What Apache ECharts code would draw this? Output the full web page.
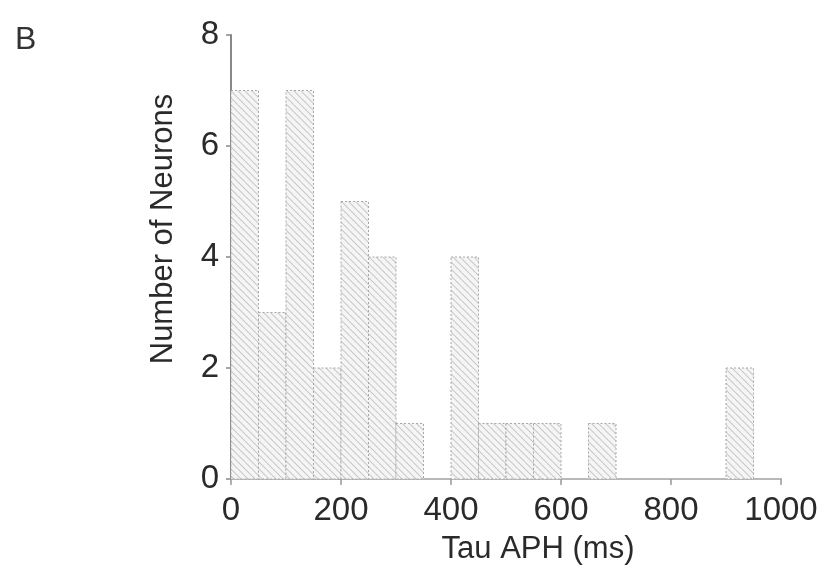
<!DOCTYPE html>
<html>
<head>
<meta charset="utf-8">
<script src="https://cdn.jsdelivr.net/npm/echarts@6/dist/echarts.min.js"></script>
<style>
html,body{margin:0;padding:0;background:#fff;}
#chart{width:833px;height:573px;}
</style>
</head>
<body>
<div id="chart"></div>
<script>
// ---- data ----
const binStarts = [0, 50, 100, 150, 200, 250, 300, 350, 400, 450, 500, 550, 600, 650, 700, 750, 800, 850, 900, 950];
const binEnds   = [50, 100, 150, 200, 250, 300, 350, 400, 450, 500, 550, 600, 650, 700, 750, 800, 850, 900, 950, 1000];
const counts    = [7, 3, 7, 2, 5, 4, 1, 0, 4, 1, 1, 1, 0, 1, 0, 0, 0, 0, 2, 0];
const xTicks = [0, 200, 400, 600, 800, 1000];
const yTicks = [0, 2, 4, 6, 8];
const xLabel = 'Tau APH (ms)';
const yLabel = 'Number of Neurons';
const panelLabel = 'B';

// ---- hatch pattern ----
function makeHatch() {
  const s = 7;
  const c = document.createElement('canvas');
  c.width = s; c.height = s;
  const g = c.getContext('2d');
  g.fillStyle = '#f5f5f5';
  g.fillRect(0, 0, s, s);
  g.strokeStyle = '#c8c8c8';
  g.lineWidth = 1.1;
  for (let k = -1; k <= 1; k++) {
    g.beginPath();
    g.moveTo(k * s, 0);
    g.lineTo(k * s + s, s);
    g.stroke();
  }
  return c;
}
const hatch = { image: makeHatch(), repeat: 'repeat' };

const histData = [];
for (let i = 0; i < counts.length; i++) {
  if (counts[i] > 0) histData.push([binStarts[i], binEnds[i], counts[i]]);
}

const font = "'Liberation Sans', Arial, sans-serif";
const txt = '#2a2a2a';
const chart = echarts.init(document.getElementById('chart'), null, { renderer: 'canvas' });
chart.setOption({
  animation: false,
  backgroundColor: '#ffffff',
  grid: { left: 231, right: 52, top: 35, bottom: 94, containLabel: false },
  graphic: [{
    type: 'text', left: 15, top: 24,
    style: { text: panelLabel, fontSize: 32, fill: '#333', fontFamily: font }
  }],
  xAxis: {
    type: 'value', min: xTicks[0], max: xTicks[xTicks.length - 1], interval: 200,
    name: xLabel, nameLocation: 'middle', nameGap: 55,
    nameTextStyle: { fontSize: 31, color: txt, fontFamily: font, padding: [0, 0, 0, 64] },
    axisLine: { show: true, lineStyle: { color: '#b8b8b8', width: 2 } },
    axisTick: { show: true, length: 6, lineStyle: { color: '#999', width: 1.5 } },
    axisLabel: { fontSize: 33, color: txt, fontFamily: font, margin: 15,
      formatter: function (v) { return String(v); } },
    splitLine: { show: false }
  },
  yAxis: {
    type: 'value', min: yTicks[0], max: yTicks[yTicks.length - 1], interval: 2,
    name: yLabel, nameLocation: 'middle', nameGap: 52,
    nameTextStyle: { fontSize: 31, color: txt, fontFamily: font, padding: [0, 0, 0, 56] },
    axisLine: { show: true, lineStyle: { color: '#888', width: 2 } },
    axisTick: { show: true, length: 5, lineStyle: { color: '#888', width: 1.5 } },
    axisLabel: { fontSize: 33, color: txt, fontFamily: font, margin: 12,
      formatter: function (v) { return String(v); } },
    splitLine: { show: false }
  },
  series: [{
    type: 'custom',
    data: histData,
    encode: { x: [0, 1], y: 2 },
    renderItem: function (params, api) {
      const p0 = api.coord([api.value(0), 0]);
      const p1 = api.coord([api.value(1), api.value(2)]);
      return {
        type: 'rect',
        shape: { x: p0[0], y: p1[1], width: p1[0] - p0[0], height: p0[1] - p1[1] },
        style: { fill: hatch, stroke: '#a8a8a8', lineWidth: 1, lineDash: [2, 2] }
      };
    }
  }]
});
</script>
</body>
</html>
